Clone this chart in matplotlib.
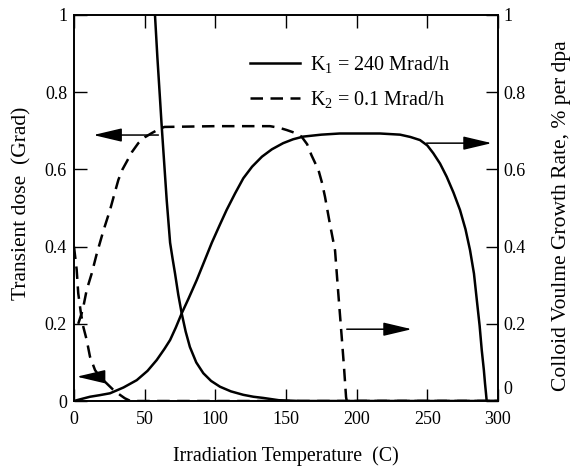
import matplotlib
matplotlib.use("Agg")
import matplotlib.pyplot as plt
from matplotlib.ticker import MultipleLocator, FuncFormatter

plt.rcParams['font.family'] = ['Liberation Serif', 'DejaVu Serif']
plt.rcParams['mathtext.fontset'] = 'custom'
plt.rcParams['mathtext.rm'] = 'Liberation Serif'
plt.rcParams['mathtext.it'] = 'Liberation Serif:italic'

# Transient dose, K1 = 240 Mrad/h (left axis)
temp_k1_dose = [57.3, 59, 60.9, 62, 63.2, 64.4, 65.6, 66.8, 68, 69.7, 71.5,
                73.8, 76.2, 79, 82, 86.5, 91.5, 97, 103.3, 111, 119.8, 127,
                133.8, 145, 160, 300]
k1_dose = [1.0, 0.89, 0.78, 0.715, 0.65, 0.585, 0.52, 0.465, 0.41, 0.37, 0.33,
           0.275, 0.227, 0.18, 0.14, 0.1, 0.072, 0.052, 0.037, 0.025, 0.016,
           0.011, 0.008, 0.002, 0.0, 0.0]

# Transient dose, K2 = 0.1 Mrad/h (left axis)
temp_k2_dose = [0, 1.9, 3, 4.8, 6.6, 9, 11.3, 14.9, 18.5, 23, 27.5, 32.5, 36,
                40, 300]
k2_dose = [0.40, 0.34, 0.279, 0.23, 0.192, 0.158, 0.115, 0.08, 0.062, 0.046,
           0.03, 0.016, 0.007, 0.0, 0.0]

# Colloid growth rate, K1 (right axis)
temp_k1_growth = [0, 5, 11.3, 18, 25.5, 35, 44.4, 52, 58.5, 64, 68, 72, 76.2,
                  81, 86.8, 92, 97.5, 103, 108, 114, 119.8, 126, 133, 140, 148,
                  155, 162.3, 175, 188, 216.5, 230.7, 238, 244.8, 250, 254.2,
                  259, 263.7, 268.5, 273.1, 277, 280.2, 283, 285, 287, 288.5,
                  290, 290.8, 291.5, 292, 300]
k1_growth = [0, 0.005, 0.011, 0.015, 0.02, 0.035, 0.054, 0.078, 0.106, 0.135,
             0.158, 0.19, 0.227, 0.265, 0.313, 0.36, 0.41, 0.455, 0.495, 0.538,
             0.577, 0.607, 0.633, 0.652, 0.668, 0.678, 0.685, 0.69, 0.693,
             0.693, 0.69, 0.684, 0.676, 0.662, 0.642, 0.615, 0.581, 0.54,
             0.495, 0.445, 0.391, 0.33, 0.262, 0.195, 0.132, 0.08, 0.046,
             0.02, 0.0, 0.0]

# Colloid growth rate, K2 (right axis)
temp_k2_growth = [3, 5.4, 6.6, 9, 12.5, 16, 20.7, 25.5, 28.5, 31.4, 34.3, 37.3,
                  41, 45.5, 50, 55, 60, 64, 100, 138.7, 145, 150.5, 156, 161,
                  165, 168, 173, 175.5, 177.6, 181, 184.7, 187, 189.4, 191,
                  192.5, 193, 300]
k2_growth = [0.2, 0.227, 0.244, 0.288, 0.33, 0.38, 0.44, 0.495, 0.535, 0.573,
             0.6, 0.62, 0.645, 0.668, 0.683, 0.694, 0.704, 0.71, 0.712, 0.712,
             0.708, 0.702, 0.695, 0.685, 0.665, 0.637, 0.598, 0.565, 0.529,
             0.46, 0.39, 0.279, 0.167, 0.09, 0.01, 0.0, 0.0]

legend_labels = [r'K$_{\mathrm{1}}$ = 240 Mrad/h', r'K$_{\mathrm{2}}$ = 0.1 Mrad/h']

dash = (0, (5, 3))
lw = 1.8

fig = plt.figure(figsize=(5.79, 4.70), dpi=100)
ax = fig.add_axes([0.1278, 0.1468, 0.7323, 0.8213])
ax2 = ax.twinx()

ax.plot(temp_k1_dose, k1_dose, color='black', lw=lw)
ax.plot(temp_k2_dose, k2_dose, color='black', lw=lw, linestyle=dash)
l1, = ax2.plot(temp_k1_growth, k1_growth, color='black', lw=lw)
l2, = ax2.plot(temp_k2_growth, k2_growth, color='black', lw=lw, linestyle=dash)

for a in (ax, ax2):
    a.set_xlim(0, 300)
    a.set_ylim(0, 1)
    a.yaxis.set_major_locator(MultipleLocator(0.2))
    for s in a.spines.values():
        s.set_linewidth(1.2)

ax.yaxis.set_major_formatter(FuncFormatter(lambda v, p: f"{v:g}"))
# right-hand zero is written separately, a little above the corner
ax2.yaxis.set_major_formatter(FuncFormatter(lambda v, p: "" if v == 0 else f"{v:g}"))
ax2.annotate('0', xy=(1, 0), xycoords=('axes fraction', 'data'),
             xytext=(4, 8), textcoords='offset points',
             ha='left', va='center', fontsize=13)

ax.xaxis.set_major_locator(MultipleLocator(50))
ax.tick_params(direction='in', length=9, width=1, top=True, labelsize=13)
ax.tick_params(axis='x', pad=7)
ax.tick_params(axis='y', pad=5)
ax2.tick_params(direction='in', length=9, width=1, labelsize=13, pad=4)

ax.set_xlabel('Irradiation Temperature  (C)', fontsize=14.3)
ax.xaxis.set_label_coords(0.5, -0.118)
ax.set_ylabel('Transient dose  (Grad)', fontsize=15.5,
              rotation_mode='default', ha='center', va='center')
ax.yaxis.set_label_coords(-0.123, 0.513)
ax2.set_ylabel('Colloid Voulme Growth Rate, % per dpa', fontsize=15.5,
               rotation=90, rotation_mode='default', ha='center', va='center')
ax2.yaxis.set_label_coords(1.149, 0.479)

# arrows pointing each curve to its axis
arrow_kw = dict(arrowstyle='-|>,head_length=1.1,head_width=0.26', lw=1.1,
                color='black', shrinkA=0, shrinkB=0, mutation_scale=16)
ax.annotate('', xy=(13.7, 0.689), xytext=(59.7, 0.689), arrowprops=arrow_kw)
ax.annotate('', xy=(2, 0.063), xytext=(17, 0.063), arrowprops=arrow_kw)
ax2.annotate('', xy=(295.6, 0.668), xytext=(249.5, 0.668), arrowprops=arrow_kw)
ax2.annotate('', xy=(239, 0.186), xytext=(193, 0.186), arrowprops=arrow_kw)

ax2.legend([l1, l2], legend_labels, loc='upper left',
           bbox_to_anchor=(0.415, 0.9), frameon=False, fontsize=14.5,
           handlelength=2.5, handletextpad=0.5, labelspacing=0.72,
           borderpad=0, borderaxespad=0)

fig.savefig('out.png', dpi=100, facecolor='white')
